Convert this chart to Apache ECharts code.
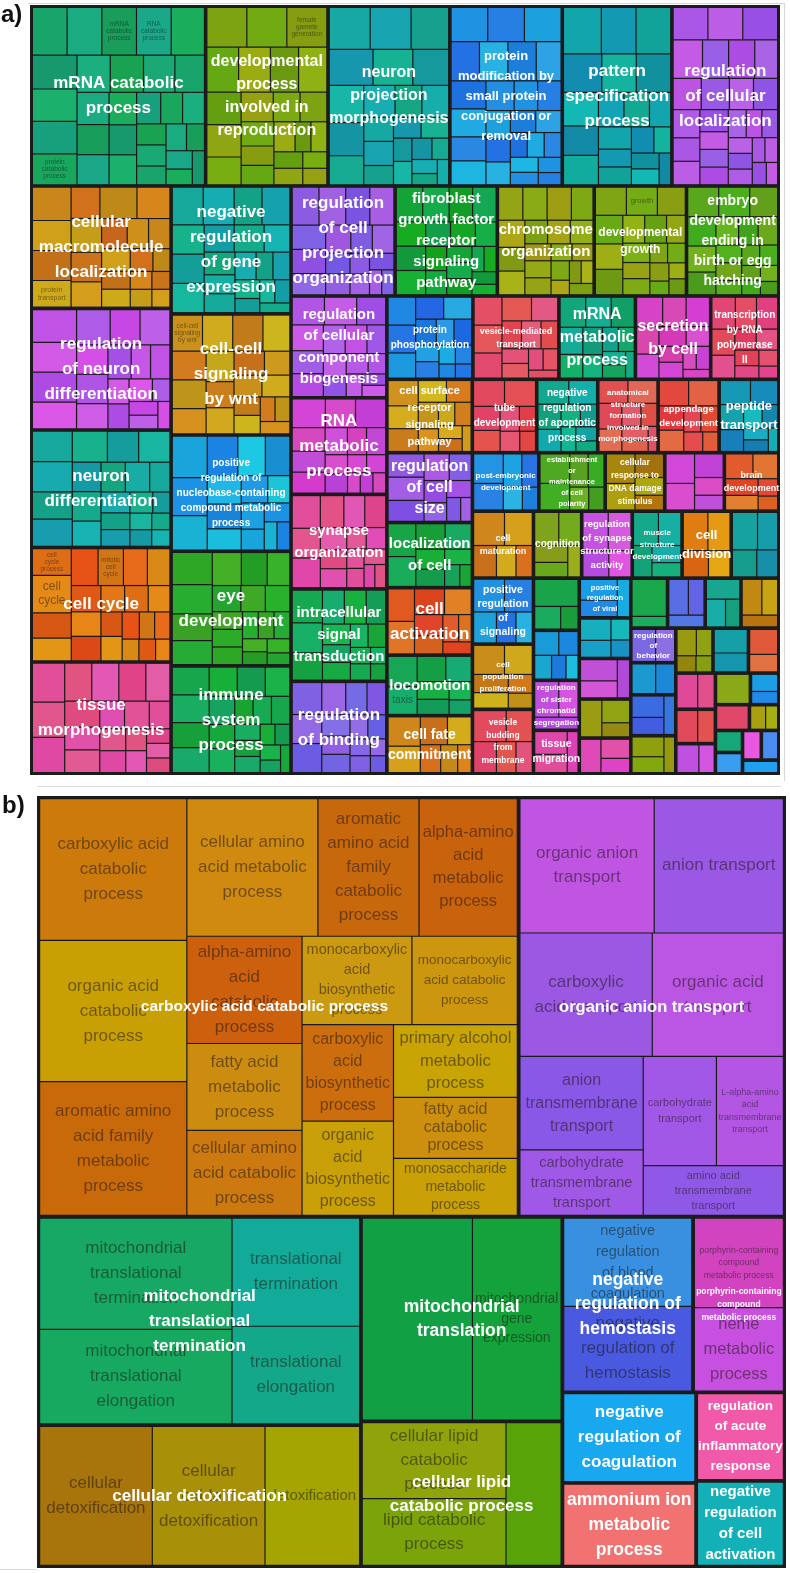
<!DOCTYPE html>
<html>
<head>
<meta charset="utf-8">
<script src="https://cdn.jsdelivr.net/npm/echarts@6/dist/echarts.min.js"></script>
<style>
html, body { margin: 0; padding: 0; background: #fff; }
#chart { width: 790px; height: 1573px; }
</style>
</head>
<body>
<div id="chart"></div>
<script>
// ---------- panel a : REVIGO groups (label text, size) ----------
var groupNamesA = [
  "mRNA catabolic\nprocess", "developmental\nprocess\ninvolved in\nreproduction", "neuron\nprojection\nmorphogenesis",
  "protein\nmodification by\nsmall protein\nconjugation or\nremoval", "pattern\nspecification\nprocess", "regulation\nof cellular\nlocalization",
  "cellular\nmacromolecule\nlocalization", "regulation\nof neuron\ndifferentiation", "neuron\ndifferentiation", "cell cycle", "tissue\nmorphogenesis",
  "negative\nregulation\nof gene\nexpression", "cell-cell\nsignaling\nby wnt", "positive\nregulation of\nnucleobase-containing\ncompound metabolic\nprocess",
  "eye\ndevelopment", "immune\nsystem\nprocess",
  "regulation\nof cell\nprojection\norganization", "fibroblast\ngrowth factor\nreceptor\nsignaling\npathway", "chromosome\norganization",
  "developmental\ngrowth", "embryo\ndevelopment\nending in\nbirth or egg\nhatching",
  "regulation\nof cellular\ncomponent\nbiogenesis", "RNA\nmetabolic\nprocess", "synapse\norganization", "intracellular\nsignal\ntransduction", "regulation\nof binding",
  "protein\nphosphorylation", "vesicle-mediated\ntransport", "mRNA\nmetabolic\nprocess", "secretion\nby cell", "transcription\nby RNA\npolymerase\nII",
  "cell surface\nreceptor\nsignaling\npathway", "tube\ndevelopment", "negative\nregulation\nof apoptotic\nprocess",
  "anatomical\nstructure\nformation\ninvolved in\nmorphogenesis", "appendage\ndevelopment", "peptide\ntransport",
  "regulation\nof cell\nsize", "localization\nof cell", "cell\nactivation", "locomotion", "cell fate\ncommitment",
  "post-embryonic\ndevelopment", "establishment\nor\nmaintenance\nof cell\npolarity", "cellular\nresponse to\nDNA damage\nstimulus", "", "brain\ndevelopment",
  "cell\nmaturation", "positive\nregulation\nof\nsignaling", "cell\npopulation\nproliferation", "vesicle\nbudding\nfrom\nmembrane",
  "cognition", "regulation\nof synapse\nstructure or\nactivity", "muscle\nstructure\ndevelopment", "cell\ndivision", "",
  "", "", "regulation\nof sister\nchromatid\nsegregation", "tissue\nmigration",
  "positive\nregulation\nof viral\nprocess", "", "", "",
  "", "", "", "",
  "", "regulation\nof\nbehavior", "", "",
  "", "", "",
  "", "", "",
  "", "",
  "", "", "", "", "", "", "", ""
];
var groupValuesA = [
  315, 221, 220, 203, 198, 193,
  172, 171, 165, 161, 157,
  154, 146, 140, 138, 130,
  115, 113, 107, 102, 102,
  98, 93, 91, 89, 89,
  72, 72, 64, 63, 57,
  63, 47.5, 45, 44.5, 45, 44,
  60, 56, 58, 52, 50,
  39, 39, 35, 35, 32,
  41, 40.5, 40, 39.5,
  32.4, 34, 33.5, 33, 32,
  24, 23, 23, 20,
  20.6, 21, 21, 20.2,
  18.5, 18.5, 18.9, 18,
  19, 15.6, 14.5, 18.5,
  17.2, 16.8, 16,
  13.7, 14.4, 13.7,
  12, 11.1,
  9, 8.8, 7.6, 6, 5.8, 5.6, 5.2, 5
];
// terms inside each group (relative sizes)
var leafValuesA = [
  [12,12,12,12,11.5,11,10.5,10.5,10,9,9,8.5,8,7.5,7,7,6.5,6,6,5.5,5,5,4.5,4.5,4,4,3.5,3.5,3,3],
  [10,10,10,9,9,8,8,7,7,6,6,5,5,5,4,4,4,3,3,3,3,2.5,2.5],
  [12,12,11,11,10,9,9,8,7,7,6,6,5,5,4,4,4,3,3,3,2.5,2.5,2,2],
  [9,9,9,8,8,8,7,7,7,6,6,6,5,5,5,4,4,4,4,3,3,3,3,2.5,2.5,2],
  [12,11,11,10,9,9,8,7,7,6,6,5,5,4,4,4,3,3,3,2.5],
  [9,9,9,9,8,8,7,7,7,6,6,6,5,5,5,4,4,4,4,3.5,3.5,3,3,3,2.5,2.5,2.5,2],
  [10,9,9,8,7,9,8,8,7,6,6,5,5,5,4,4,4,3,3,3,2.5,2.5],
  [11,10,10,9,9,8,8,7,7,6,6,5,5,4,4,4,3,3,3,2.5],
  [10,10,9,9,9,8,8,7,7,6,6,6,5,5,4,4,4,3,3,3,2.5,2.5],
  [10,14,9.5,8.5,9.5,9,8.5,8,7.5,7,7,6,6,5.5,5,5,4.5,4,4,3.5,3.5,3],
  [11,10,10,9,9,9,8,8,7,7,6,6,5,5,5,4,4,3,3,3],
  [10,10,9,9,8,8,8,7,7,6,6,5,5,5,4,4,4,3,3,3,2.5],
  [9,9,9,8,8,8,7,7,6,6,6,5,5,5,4,4,3,3,3],
  [12,11,10,10,9,8,8,7,6,6,5,5,4,4,3,3],
  [12,11,10,9,9,8,7,7,6,6,5,5,5,4,4,4,3,3,3,2.5],
  [10,10,9,9,8,8,7,7,6,6,5,5,5,4,4,4,3,3,3,2.5,2.5],
  [10,10,9,9,8,8,7,7,6,6,5,5,4,4,4,3,3],
  [9,9,8,8,7,7,7,6,6,5,5,5,4,4,4,3,3,3,2.5],
  [9,9,9,8,8,7,7,6,6,6,5,5,5,4,4,4,3,3,3,3],
  [10,10,9,9,8,8,7,7,6,6,5,5,4,4,4,3,3,3],
  [10,10,9,9,8,7,7,6,6,5,5,4,4,4,3,3,3,2.5],
  [10,10,9,9,8,8,7,7,6,6,5,5,4,4,3,3],
  [11,10,10,9,8,8,7,6,6,5,5,4,4,3,3,3],
  [11,10,10,9,8,8,7,6,6,5,5,4,4,4,3,3],
  [12,11,10,9,9,8,7,6,6,5,5,4,4,3,3],
  [11,10,10,9,8,7,7,6,6,5,5,4,4,3,3],
  [10,10,9,8,8,7,6,6,5,5,4,4,3,3],
  [10,10,9,9,8,7,7,6,5,5,4,4,3],
  [10,10,9,8,7,7,6,5,5,4,4,3],
  [10,9,9,8,7,7,6,5,5,4,4,3],
  [10,9,9,8,7,6,6,5,4,4,3],
  [10,9,9,8,7,7,6,5,5,4,4,3],
  [10,10,8,7,6,5,5,4],
  [10,9,8,7,6,5,5,4,3],
  [9,9,8,7,6,5,5,4,3],
  [10,10,8,7,6,6,5,4],
  [10,9,8,7,6,5,4,4,3],
  [10,10,9,8,7,6,5,5,4,3],
  [11,10,9,8,7,6,5,4,3],
  [10,10,9,8,7,6,5,4,4],
  [11,10,9,8,7,6,5,4],
  [10,9,8,7,6,5,4],
  [10,9,7,6,5,4],
  [10,9,7,6,5,4],
  [10,9,8,6,5],
  [10,9,8,6,5],
  [10,9,8,7,5,4],
  [10,9,7,6,5],
  [10,9,7,6,5],
  [10,9,7,6,5,4],
  [10,8,7,6,5],
  [10,9,7,6,5],
  [10,9,7,6],
  [10,9,7,6,5],
  [10,9,7,6],
  [10,8,7,6],
  [12,6,4],
  [10,8,7,6,5],
  [10,8,6],
  [10,8,6],
  [10,8,6],
  [10,8,6,5],
  [10,8,6],
  [10,8,5],
  [10,8,6],
  [14,4],
  [10,8,6],
  [10,8,6],
  [10,8,6],
  [10,8],
  [10,8],
  [10,8,6],
  [10,8,6],
  [10,8,6,5],
  [10,8],
  [10,7],
  [10,8],
  [10,8],
  [10,7],
  [10],
  [10,7],
  [10],
  [10,8],
  [10], [10], [10], [10], [10]
];
// the few terms whose own label shows ("group:index")
var leafLabelsA = {
  "0:2": "mRNA\ncatabolic\nprocess", "0:3": "RNA\ncatabolic\nprocess", "0:8": "protein\ncatabolic\nprocess",
  "1:2": "female\ngamete\ngeneration", "6:3": "protein\ntransport", "12:0": "cell-cell\nsignaling\nby wnt",
  "9:0": "cell\ncycle\nprocess", "9:1": "cell\ncycle", "9:5": "mitotic\ncell\ncycle",
  "19:1": "growth", "40:1": "taxis"
};

// ---------- panel b ----------
var groupNamesB = [
  "carboxylic acid catabolic process", "organic anion transport", "mitochondrial\ntranslational\ntermination",
  "cellular detoxification", "mitochondrial\ntranslation", "cellular lipid\ncatabolic process",
  "negative\nregulation of\nhemostasis", "porphyrin-containing\ncompound\nmetabolic process", "negative\nregulation of\ncoagulation",
  "ammonium ion\nmetabolic\nprocess", "regulation\nof acute\ninflammatory\nresponse", "negative\nregulation\nof cell\nactivation"
];
var groupValuesB = [2029, 1124, 677, 460, 415, 295, 231, 162, 122, 113, 79, 76.5];
var leafNamesB = [
  ["carboxylic acid\ncatabolic\nprocess", "organic acid\ncatabolic\nprocess", "aromatic amino\nacid family\nmetabolic\nprocess",
   "cellular amino\nacid metabolic\nprocess", "aromatic\namino acid\nfamily\ncatabolic\nprocess", "alpha-amino\nacid\nmetabolic\nprocess",
   "alpha-amino\nacid\ncatabolic\nprocess", "fatty acid\nmetabolic\nprocess", "cellular amino\nacid catabolic\nprocess",
   "monocarboxylic\nacid\nbiosynthetic\nprocess", "monocarboxylic\nacid catabolic\nprocess", "carboxylic\nacid\nbiosynthetic\nprocess",
   "organic\nacid\nbiosynthetic\nprocess", "primary alcohol\nmetabolic\nprocess", "fatty acid\ncatabolic\nprocess", "monosaccharide\nmetabolic\nprocess"],
  ["organic anion\ntransport", "anion transport", "carboxylic\nacid transport", "organic acid\ntransport",
   "anion\ntransmembrane\ntransport", "carbohydrate\ntransmembrane\ntransport", "carbohydrate\ntransport",
   "L-alpha-amino\nacid\ntransmembrane\ntransport", "amino acid\ntransmembrane\ntransport"],
  ["mitochondrial\ntranslational\ntermination", "mitochondrial\ntranslational\nelongation", "translational\ntermination", "translational\nelongation"],
  ["cellular\ndetoxification", "cellular\noxidant\ndetoxification", "detoxification"],
  ["", "mitochondrial\ngene\nexpression"],
  ["cellular lipid\ncatabolic\nprocess", "lipid catabolic\nprocess", ""],
  ["negative\nregulation\nof blood\ncoagulation", "negative\nregulation of\nhemostasis"],
  ["porphyrin-containing\ncompound\nmetabolic process", "heme\nmetabolic\nprocess"],
  [""], [""], [""], [""]
];
var leafValuesB = [
  [213, 212, 201, 184, 142, 138, 126, 102, 100, 99, 95, 90, 88, 92, 77, 72],
  [185, 178, 167.5, 166, 118, 83, 82, 75, 71.5],
  [220, 187, 142, 128],
  [162, 162, 136],
  [225, 181],
  [114, 100, 82],
  [118, 113],
  [84, 78],
  [122], [113], [79], [76.5]
];

// ---------- styles ----------
var FONT = "Liberation Sans, Arial, sans-serif";
var groupColorsA = [
  '#19a46c','#7da312','#16a8a2','#1f92e2','#12a5aa','#a957e4',
  '#c9861a','#c052e6','#16a89c','#de6e16','#e04f98',
  '#14a99a','#c9911c','#1aa4dc','#2ea726','#17a64c',
  '#8d5ae2','#14a336','#95a414','#80a514','#58a71c',
  '#b055e6','#d444d6','#e14e9c','#17a852','#7f62e4',
  '#1f88e3','#e35066','#13a67a','#d643c6','#e24672',
  '#cf921c','#e3495e','#12a890','#e05050','#e2483e','#1699b4',
  '#9056e4','#18a547','#e05a20','#16a656','#cf861a',
  '#2393e3','#4fa822','#a8860e','#d248d8','#e05c2c',
  '#cf861c','#2092e0','#c98e1a','#e24a5e',
  '#7fa31c','#c552e0','#15a88a','#df7d12','#16a3a0',
  '#1aa44a','#1a9ad6','#c24ee0','#df47a8',
  '#1a9ce6','#17aec0','#c150d8','#9a9c12',
  '#e04ab8','#1aa64a','#5a6ee4','#17a690',
  '#c08a12','#7a68e2','#1a9ad0','#3c6ae0',
  '#8ea00e','#9a9a10','#15a0a8',
  '#e05a3a','#e0489a','#e04a5a',
  '#c050e0','#8aa818',
  '#1a9ee6','#e0486a','#a8a010','#17a87a','#3a9ef0','#e858e0','#4a8cf0','#20a0f0'
];
var groupFontA = [
  17,16,16,13,17,17,
  17,17,17,17,17,
  17,17,10,17,17,
  17,15,15,12,14,
  15,17,15,15,17,
  10,9,16,16,10,
  11,10,10,8,9.5,13,
  16,15,17,15,14,
  8,7.5,8.5,0,9,
  9,10.5,8,8.5,
  10,9.5,8,13,0,
  0,0,8,10.5,
  7.5,0,0,0,
  0,0,0,0,
  0,8,0,0,
  0,0,0, 0,0,0, 0,0, 0,0,0,0,0,0,0,0
];
var groupLineA = {3: 20, 13: 15, 17: 21, 20: 20, 21: 21.5, 30: 15, 31: 17, 33: 15, 34: 11.5, 37: 21,
  43: 11, 44: 13, 48: 14, 50: 12.5, 52: 13.5, 53: 12, 58: 11.5, 60: 10.5, 69: 10};
var leafFontA = {"0:2": 6.5, "0:3": 6.5, "0:8": 6.5, "1:2": 6.5, "6:3": 7, "12:0": 6.5,
  "9:0": 6.5, "9:1": 12, "9:5": 6.5, "19:1": 7.5, "40:1": 10};

var leafColorsB = [
  ['#cc7a0c','#c9a004','#c96a0a','#d08a10','#c8680c','#c8620c','#cc600c','#cc8c10',
   '#cc7a10','#cc9a10','#cc960e','#cc6e0e','#c9a008','#c8a404','#cc900e','#c9a006'],
  ['#c055e2','#9a58e4','#9b58e2','#bb56e4','#8a58e6','#a058e6','#a258e6','#b456e4','#9058e6'],
  ['#17a865','#17a960','#12ab9a','#14a88a'],
  ['#a8740c','#a89008','#a4a402'],
  ['#12a045','#14a23a'],
  ['#8ea40a','#7aa40a','#58a408'],
  ['#3a90e0','#4a5ae0'],
  ['#d243c0','#c850e0'],
  ['#18a8f0'], ['#f27272'], ['#f05aa8'], ['#14b0b8']
];
var leafFontB = [
  [17,17,17,17,17,16.5,17,17,17,14.5,13.5,16,16,16.5,16,14],
  [17,17,17,17,16,14.5,11,9,11],
  [17,17,17,17],
  [17,17,15],
  [17,14],
  [17,17,17],
  [14.5,17],
  [8.7,16.5],
  [12],[12],[12],[12]
];
var leafLineB = [
  [25,25,25,25,24,23,25,25,25,20,20,22,22,22.5,18,18],
  [24,24,25,25,23,20,16.5,12.5,15],
  [25,25,25,25],
  [25,25,25],
  [25,19.5],
  [24,24,24],
  [21,25],
  [12.7,25],
  [14],[14],[14],[14]
];
var groupFontB = [15.5, 16.5, 17, 17, 17.5, 17, 17.5, 8.5, 17, 17.5, 13.5, 15];
var groupLineB = [20, 20, 25, 20, 23.5, 24, 24.5, 13, 25, 25, 20, 21];
var groupOffsetB = {0: [-14, 0]};

// small hue / lightness steps so neighbouring terms of a group differ a little
var SHADES = [[0,0],[7,0.015],[-6,-0.015],[11,0.01],[-9,0.02],[4,-0.025],[-3,0.03],[9,-0.01],[-7,0.005],[5,0.025],[-11,-0.005],[2,0.01]];

function shade(hex, i) {
  var r = parseInt(hex.slice(1,3),16)/255, g = parseInt(hex.slice(3,5),16)/255, b = parseInt(hex.slice(5,7),16)/255;
  var max = Math.max(r,g,b), min = Math.min(r,g,b), h, s, l = (max+min)/2, d = max-min;
  if (d === 0) { h = s = 0; }
  else {
    s = l > 0.5 ? d/(2-max-min) : d/(max+min);
    if (max === r) h = ((g-b)/d + (g < b ? 6 : 0)) * 60;
    else if (max === g) h = ((b-r)/d + 2) * 60;
    else h = ((r-g)/d + 4) * 60;
  }
  var st = SHADES[i % SHADES.length];
  h = (h + st[0] + 360) % 360;
  l = Math.min(0.9, Math.max(0.1, l + st[1]));
  var c = (1 - Math.abs(2*l-1)) * s, x = c * (1 - Math.abs((h/60) % 2 - 1)), m = l - c/2, rgb;
  if (h < 60) rgb = [c,x,0]; else if (h < 120) rgb = [x,c,0]; else if (h < 180) rgb = [0,c,x];
  else if (h < 240) rgb = [0,x,c]; else if (h < 300) rgb = [x,0,c]; else rgb = [c,0,x];
  return '#' + rgb.map(function(v){ var t = Math.round((v+m)*255).toString(16); return t.length < 2 ? '0'+t : t; }).join('');
}

// ---------- series data ----------
var dataA = groupNamesA.map(function(name, g){
  return {
    name: name.replace(/\n/g, ' '),
    value: groupValuesA[g],
    children: leafValuesA[g].map(function(v, i){
      var key = g + ':' + i;
      var item = { name: leafLabelsA[key] || '', value: v, itemStyle: { color: shade(groupColorsA[g], i) } };
      if (leafLabelsA[key]) item.label = { fontSize: leafFontA[key], lineHeight: Math.round(leafFontA[key]*1.15) };
      return item;
    })
  };
});
var overlayA = groupNamesA.map(function(name, g){
  var fs = groupFontA[g] || 10;
  return { name: name, value: groupValuesA[g],
    label: { fontSize: fs, lineHeight: groupLineA[g] || Math.round(fs*1.45) } };
});
var dataB = groupNamesB.map(function(name, g){
  return {
    name: name.replace(/\n/g, ' '),
    value: groupValuesB[g],
    children: leafValuesB[g].map(function(v, i){
      return { name: leafNamesB[g][i], value: v,
        itemStyle: { color: leafColorsB[g][i] },
        label: { fontSize: leafFontB[g][i], lineHeight: leafLineB[g][i] } };
    })
  };
});
var overlayB = groupNamesB.map(function(name, g){
  return { name: name, value: groupValuesB[g],
    label: { fontSize: groupFontB[g], lineHeight: groupLineB[g], offset: groupOffsetB[g] || [0, 0] } };
});

function mainSeries(rect, data, bw, leafLabelColor) {
  return {
    type: 'treemap', left: rect[0], top: rect[1], width: rect[2], height: rect[3],
    squareRatio: 1.17, sort: false, roam: false, nodeClick: false, silent: true,
    breadcrumb: { show: false }, visibleMin: 0,
    label: { show: true, position: 'inside', padding: 0, overflow: 'none', color: leafLabelColor,
      fontFamily: FONT, fontSize: 7 },
    upperLabel: { show: false },
    levels: [
      { itemStyle: { borderWidth: bw, borderColor: '#1c1c1c', gapWidth: 0 } },
      { itemStyle: { borderWidth: bw, borderColor: '#1c1c1c', gapWidth: 0 } },
      { itemStyle: { borderWidth: 0.6, borderColor: 'rgba(25,25,25,0.75)', gapWidth: 0 } }
    ],
    data: data
  };
}
function overlaySeries(rect, data, bw) {
  return {
    type: 'treemap', left: rect[0], top: rect[1], width: rect[2], height: rect[3], z: 5,
    squareRatio: 1.17, sort: false, roam: false, nodeClick: false, silent: true,
    breadcrumb: { show: false }, visibleMin: 0,
    label: { show: true, position: 'inside', padding: 0, overflow: 'none', color: '#ffffff',
      fontFamily: FONT, fontWeight: 'bold' },
    upperLabel: { show: false },
    itemStyle: { color: 'rgba(0,0,0,0)', borderColor: 'rgba(0,0,0,0)' },
    levels: [
      { itemStyle: { borderWidth: bw, borderColor: 'rgba(0,0,0,0)', color: 'rgba(0,0,0,0)', gapWidth: 0 } },
      { itemStyle: { borderWidth: 0, borderColor: 'rgba(0,0,0,0)', color: 'rgba(0,0,0,0)', gapWidth: 0 } }
    ],
    data: data
  };
}

var rectA = [30, 5, 750, 770];
var rectB = [37, 796, 749, 772];

var chart = echarts.init(document.getElementById('chart'), null, { renderer: 'canvas' });
chart.setOption({
  animation: false,
  backgroundColor: '#ffffff',
  graphic: [
    { type: 'line', silent: true, shape: { x1: 28, y1: 3.5, x2: 785, y2: 3.5 }, style: { stroke: '#d6d6d6', lineWidth: 1 } },
    { type: 'line', silent: true, shape: { x1: 784.5, y1: 3.5, x2: 784.5, y2: 781 }, style: { stroke: '#d6d6d6', lineWidth: 1 } },
    { type: 'line', silent: true, shape: { x1: 37, y1: 786.5, x2: 781, y2: 786.5 }, style: { stroke: '#dcdcdc', lineWidth: 1 } },
    { type: 'line', silent: true, shape: { x1: 0, y1: 1569.5, x2: 37, y2: 1569.5 }, style: { stroke: '#dcdcdc', lineWidth: 1 } },
    { type: 'text', left: 1, top: 3, silent: true, style: { text: 'a)', font: 'bold 24px ' + FONT, fill: '#111' } },
    { type: 'text', left: 2, top: 794, silent: true, style: { text: 'b)', font: 'bold 24px ' + FONT, fill: '#111' } }
  ],
  series: [
    mainSeries(rectA, dataA, 1.2, 'rgba(20,20,20,0.5)'),
    overlaySeries(rectA, overlayA, 1.2),
    mainSeries(rectB, dataB, 1.3, 'rgba(25,20,15,0.52)'),
    overlaySeries(rectB, overlayB, 1.3)
  ]
});
</script>
</body>
</html>
